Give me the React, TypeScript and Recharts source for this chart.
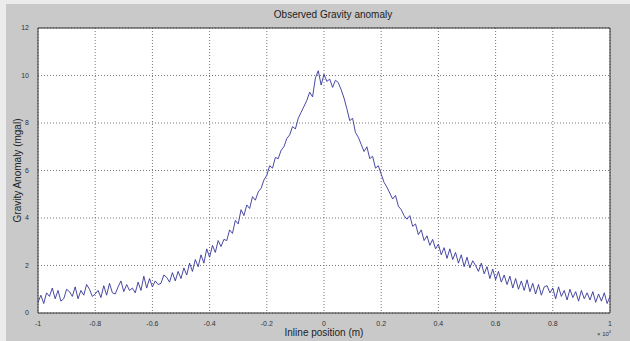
import {
  LineChart,
  Line,
  XAxis,
  YAxis,
  CartesianGrid,
  ReferenceLine,
} from "recharts";

// gravity anomaly (mgal) sampled every 0.01 x 10^4 m from -1 to 1
const gravity = [
  0.45, 0.75, 0.4, 0.85, 0.7, 1.05, 0.6, 0.95, 0.5, 0.6,
  1.0, 0.9, 0.7, 1.1, 0.6, 0.95, 0.75, 1.2, 1.0, 0.7,
  0.8, 0.95, 0.65, 1.15, 0.75, 1.25, 0.85, 0.8, 1.1, 1.35,
  0.9, 1.2, 0.95, 1.05, 0.85, 1.3, 0.95, 1.55, 1.05, 1.45,
  1.1, 1.35, 1.2, 1.25, 1.6, 1.5, 1.3, 1.7, 1.35, 1.75,
  1.45, 1.9, 1.6, 2.1, 1.75, 2.25, 1.95, 2.45, 2.1, 2.7,
  2.35, 2.85, 2.55, 3.05, 2.8, 3.1, 3.05, 3.5, 3.35, 3.9,
  3.75, 4.35, 4.1, 4.55, 4.4, 4.9, 4.75, 5.1, 5.25, 5.6,
  5.8, 6.2, 6.1, 6.55, 6.5, 6.85, 7.0, 7.35, 7.5, 7.85,
  7.75, 8.2, 8.45, 8.7, 8.95, 9.3, 9.1, 9.9, 10.2, 9.6,
  10.05, 9.75, 9.85, 9.5, 9.8, 9.7, 9.4, 9.05, 8.6, 8.1,
  8.2, 7.6, 7.4, 7.1, 6.8, 7.0, 6.5, 6.6, 6.1, 6.2,
  5.85, 5.5, 5.3, 5.05, 4.8, 4.95, 4.5, 4.35, 4.1, 3.95,
  4.1, 3.65, 3.75, 3.3, 3.5, 3.05, 3.25, 2.85, 3.1, 2.7,
  2.9, 2.45, 2.75, 2.3, 2.7, 2.25, 2.55, 2.1, 2.45, 1.95,
  2.35, 1.9, 2.2, 2.0, 1.75, 2.1, 1.65, 1.95, 1.45, 1.85,
  1.4, 1.75, 1.3, 1.6, 1.2, 1.55, 1.05, 1.45, 1.0, 1.35,
  0.95, 1.4, 0.9, 1.25, 0.8, 1.2, 0.75, 1.1, 1.15, 0.85,
  1.05, 0.6, 1.1, 0.7, 0.95, 0.55, 1.0, 0.65, 0.9, 0.5,
  0.95, 0.6, 0.85, 0.55, 0.9, 0.45, 0.8, 0.5, 0.85, 0.4,
  0.7,
];

const xTicks = [-1, -0.8, -0.6, -0.4, -0.2, 0, 0.2, 0.4, 0.6, 0.8, 1];
const yTicks = [0, 2, 4, 6, 8, 10, 12];

const data = gravity.map((g, i) => ({
  pos: Math.round((-1 + i * 0.01) * 100) / 100,
  g,
}));

const FONT = "'Liberation Sans', Arial, sans-serif";
const tick = { fontSize: 7, fill: "#333", fontFamily: FONT };

export default function App() {
  return (
    <div
      style={{
        position: "absolute",
        left: 0,
        top: 0,
        width: 630,
        height: 341,
        background: "#ececec",
      }}
    >
      <div
        style={{
          position: "absolute",
          left: 6,
          top: 4,
          right: 0,
          bottom: 0,
          background: "#c9c9c9",
        }}
      />
      <div
        style={{
          position: "absolute",
          left: 0,
          width: 630,
          top: 9,
          textAlign: "center",
          paddingLeft: 18,
          fontSize: 10,
          fontFamily: FONT,
          color: "#222",
        }}
      >
        Observed Gravity anomaly
      </div>
      <div
        style={{
          position: "absolute",
          left: 597,
          top: 329,
          fontSize: 6,
          fontFamily: FONT,
          color: "#333",
        }}
      >
        × 10<sup style={{ fontSize: 4 }}>4</sup>
      </div>
      <div style={{ position: "absolute", left: 0, top: 0 }}>
        <LineChart
          width={630}
          height={341}
          data={data}
          margin={{ top: 28, right: 20, left: 0, bottom: 0 }}
        >
          <CartesianGrid
            fill="#ffffff"
            stroke="#777"
            strokeDasharray="1 2"
          />
          <XAxis
            dataKey="pos"
            type="number"
            domain={[-1, 1]}
            ticks={xTicks}
            height={28}
            tickLine={false}
            tickMargin={2}
            axisLine={{ stroke: "#333" }}
            tick={tick}
            label={{
              value: "Inline position (m)",
              position: "insideBottom",
              offset: 5,
              style: { fontSize: 10, fill: "#222", fontFamily: FONT },
            }}
          />
          <YAxis
            type="number"
            domain={[0, 12]}
            ticks={yTicks}
            width={38}
            tickLine={false}
            tickMargin={3}
            axisLine={{ stroke: "#333" }}
            tick={tick}
            label={{
              value: "Gravity Anomaly (mgal)",
              angle: -90,
              position: "insideLeft",
              offset: 17,
              style: {
                fontSize: 10,
                fill: "#222",
                fontFamily: FONT,
                textAnchor: "middle",
              },
            }}
          />
          <ReferenceLine y={12} stroke="#333" />
          <ReferenceLine x={1} stroke="#333" />
          <Line
            type="linear"
            dataKey="g"
            stroke="#34349a"
            strokeWidth={0.9}
            dot={false}
            isAnimationActive={false}
          />
        </LineChart>
      </div>
    </div>
  );
}
